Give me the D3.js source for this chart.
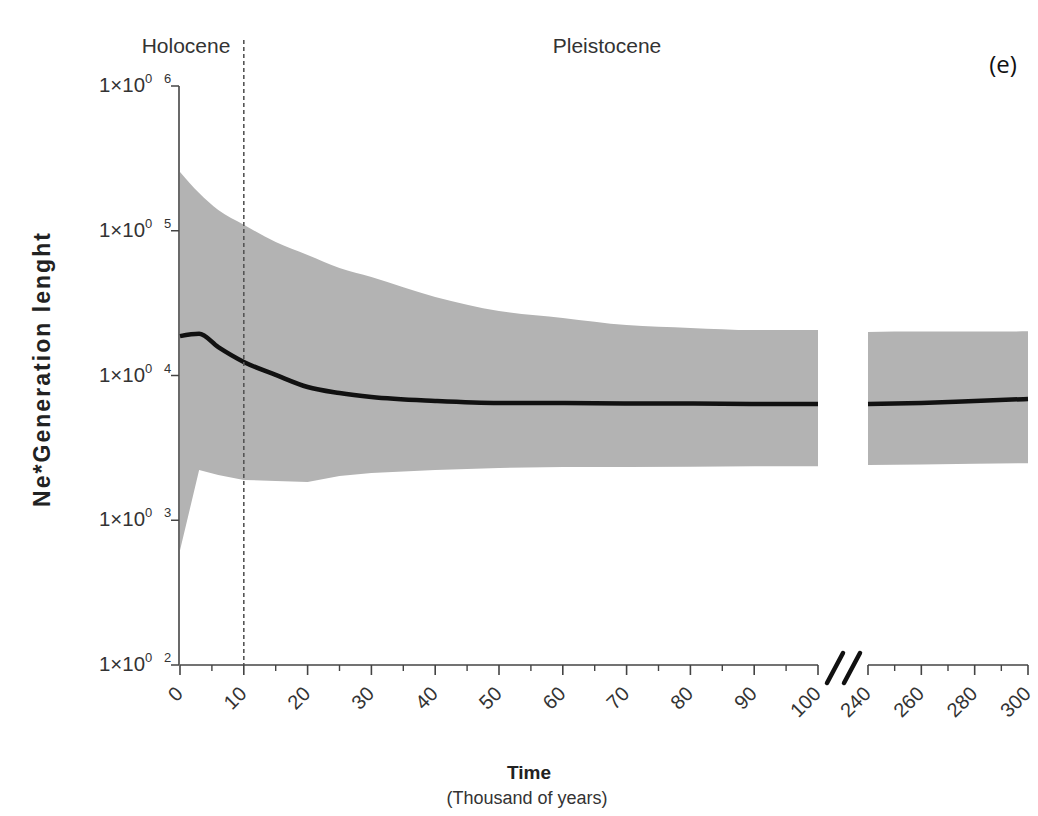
<!DOCTYPE html>
<html>
<head>
<meta charset="utf-8">
<script src="https://cdn.jsdelivr.net/npm/d3@7"></script>
<style>
  body { margin: 0; background: #fff; }
  svg text { font-family: "Liberation Sans", Arial, sans-serif; }
</style>
</head>
<body>
<svg id="chart" width="1038" height="816"></svg>
<script>
// ---- Data (time in thousand years; Ne*generation length) ----
const timesA  = [0, 3, 6, 10, 15, 20, 25, 30, 40, 50, 60, 70, 80, 90, 100];
const upperA  = [255000, 182000, 139000, 110000, 83600, 68000, 55300, 47900, 34900, 27900, 25000, 22300, 21300, 20600, 20600];
const medianA = [18700, 19400, 15700, 12400, 10100, 8330, 7570, 7100, 6670, 6460, 6460, 6400, 6400, 6350, 6350];
const lowerA  = [620, 2220, 2050, 1900, 1870, 1840, 2020, 2120, 2220, 2300, 2330, 2330, 2340, 2360, 2360];

const timesB  = [240, 260, 280, 300];
const upperB  = [20000, 20100, 20100, 20200];
const medianB = [6350, 6460, 6670, 6880];
const lowerB  = [2410, 2430, 2460, 2480];

const xTicksA = [0, 10, 20, 30, 40, 50, 60, 70, 80, 90, 100];
const xTicksB = [240, 260, 280, 300];
const yTicks  = [1e2, 1e3, 1e4, 1e5, 1e6];
const yExponents = ["2", "3", "4", "5", "6"];
const holoceneBoundary = 10;

// ---- Scales ----
const svg = d3.select("#chart");
const x1 = d3.scaleLinear().domain([0, 100]).range([180, 818]);
const x2 = d3.scaleLinear().domain([240, 300]).range([868, 1028]);
const y  = d3.scaleLog().domain([1e2, 1e6]).range([665, 86]);
const axisColor = "#444";

// ---- Y axis ----
const yAxis = svg.append("g");
yAxis.append("line").attr("x1", 179).attr("x2", 179)
  .attr("y1", y(1e6)).attr("y2", y(1e2))
  .attr("stroke", axisColor).attr("stroke-width", 1.6);
yTicks.forEach((t, i) => {
  yAxis.append("line").attr("x1", 171).attr("x2", 179)
    .attr("y1", y(t)).attr("y2", y(t))
    .attr("stroke", axisColor).attr("stroke-width", 1.5);
  yAxis.append("text").attr("x", 99).attr("y", y(t) + 6)
    .attr("font-size", 20).attr("fill", "#333")
    .attr("textLength", 46).attr("lengthAdjust", "spacingAndGlyphs").text("1×10");
  yAxis.append("text").attr("x", 145).attr("y", y(t) - 3)
    .attr("font-size", 13).attr("fill", "#333").text("0");
  yAxis.append("text").attr("x", 164).attr("y", y(t) - 3)
    .attr("font-size", 13).attr("fill", "#333").text(yExponents[i]);
});

// ---- Bands ----
function bandPath(xs, times, lo, up) {
  const upPts = times.map((t, i) => [xs(t), y(up[i])]);
  const loPts = times.map((t, i) => [xs(t), y(lo[i])]).reverse();
  const upD = d3.line().curve(d3.curveMonotoneX)(upPts);
  const loD = d3.line()(loPts);
  return upD + "L" + loD.slice(1) + "Z";
}
svg.append("path").attr("d", bandPath(x1, timesA, lowerA, upperA)).attr("fill", "#b3b3b3");
svg.append("path").attr("d", bandPath(x2, timesB, lowerB, upperB)).attr("fill", "#b3b3b3");

// ---- Median lines ----
const lineA = d3.line().x((d, i) => x1(timesA[i])).y((d, i) => y(medianA[i])).curve(d3.curveMonotoneX);
const lineB = d3.line().x((d, i) => x2(timesB[i])).y((d, i) => y(medianB[i])).curve(d3.curveMonotoneX);
svg.append("path").attr("d", lineA(timesA)).attr("fill", "none").attr("stroke", "#111").attr("stroke-width", 4.5);
svg.append("path").attr("d", lineB(timesB)).attr("fill", "none").attr("stroke", "#111").attr("stroke-width", 4.5);

// ---- X axes ----
const xg = svg.append("g");
function drawSeg(scale, domain, major, minorStep) {
  xg.append("line").attr("x1", scale(domain[0])).attr("x2", scale(domain[1]))
    .attr("y1", 665).attr("y2", 665).attr("stroke", axisColor).attr("stroke-width", 1.6);
  for (let v = domain[0] + minorStep; v < domain[1]; v += 2 * minorStep) {
    xg.append("line").attr("x1", scale(v)).attr("x2", scale(v)).attr("y1", 665).attr("y2", 671)
      .attr("stroke", axisColor).attr("stroke-width", 1.4);
  }
  major.forEach(t => {
    xg.append("line").attr("x1", scale(t)).attr("x2", scale(t)).attr("y1", 665).attr("y2", 675)
      .attr("stroke", axisColor).attr("stroke-width", 1.6);
    xg.append("text").attr("transform", `translate(${scale(t) + 4},${695}) rotate(-45)`)
      .attr("text-anchor", "end").attr("font-size", 20).attr("fill", "#333").text(t);
  });
}
drawSeg(x1, [0, 100], xTicksA, 5);
drawSeg(x2, [240, 300], xTicksB, 10);

// break marks
[[827, 843], [844, 860]].forEach(([a, b]) => {
  svg.append("line").attr("x1", a).attr("y1", 683).attr("x2", b).attr("y2", 653)
    .attr("stroke", "#111").attr("stroke-width", 4.5).attr("stroke-linecap", "round");
});

// ---- Holocene boundary ----
svg.append("line").attr("x1", x1(holoceneBoundary)).attr("x2", x1(holoceneBoundary))
  .attr("y1", 40).attr("y2", 665)
  .attr("stroke", "#555").attr("stroke-width", 1.6).attr("stroke-dasharray", "4,3");

svg.append("text").attr("x", 186).attr("y", 53).attr("text-anchor", "middle")
  .attr("font-size", 21).attr("fill", "#333").text("Holocene");
svg.append("text").attr("x", 607).attr("y", 53).attr("text-anchor", "middle")
  .attr("font-size", 21).attr("fill", "#333").text("Pleistocene");
svg.append("text").attr("x", 1003).attr("y", 73).attr("text-anchor", "middle")
  .style("font-family", "'Open Sans', sans-serif").attr("font-size", 24).attr("fill", "#111").text("(e)");

// ---- Axis titles ----
svg.append("text").attr("transform", "translate(50,370) rotate(-90)").attr("text-anchor", "middle")
  .attr("font-size", 23).attr("font-weight", "bold").attr("fill", "#222")
  .attr("textLength", 274).attr("lengthAdjust", "spacing").text("Ne*Generation lenght");
svg.append("text").attr("x", 529).attr("y", 779).attr("text-anchor", "middle")
  .attr("font-size", 19).attr("font-weight", "bold").attr("fill", "#222").text("Time");
svg.append("text").attr("x", 527).attr("y", 804).attr("text-anchor", "middle")
  .attr("font-size", 18).attr("fill", "#333").text("(Thousand of years)");
</script>
</body>
</html>
